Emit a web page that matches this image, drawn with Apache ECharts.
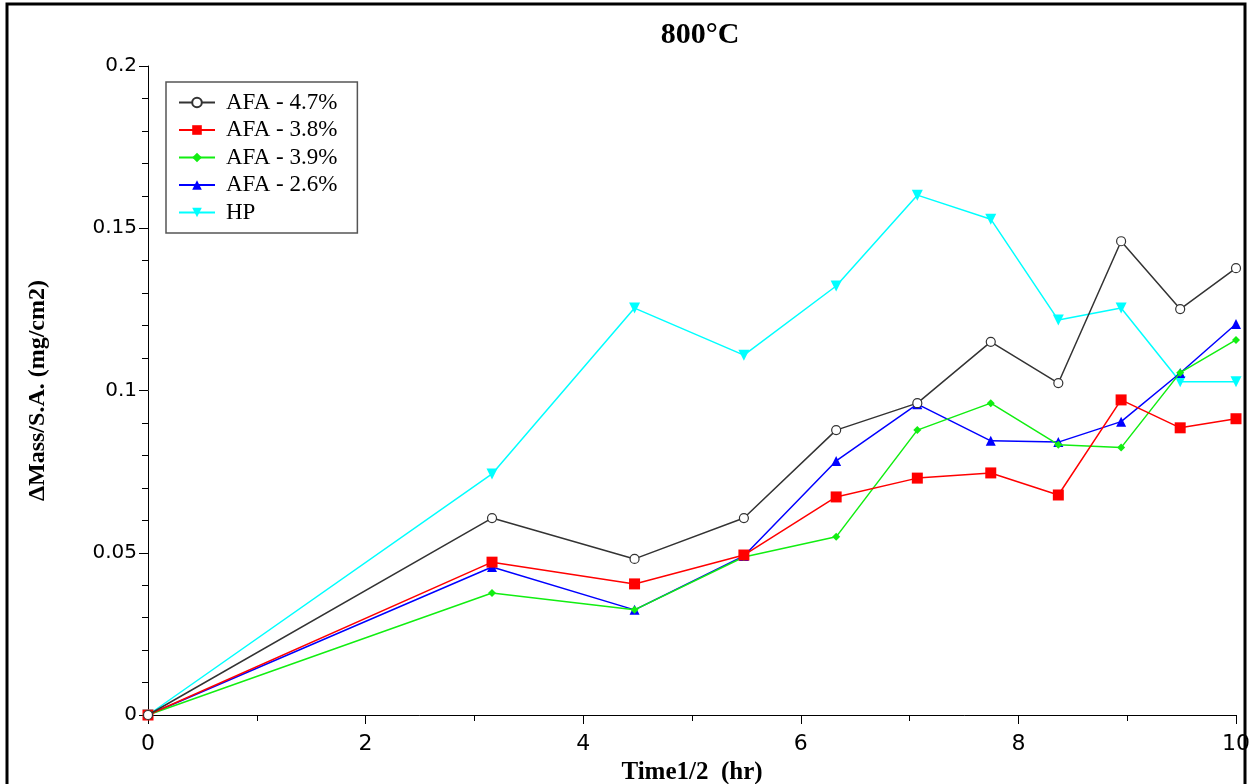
<!DOCTYPE html>
<html>
<head>
<meta charset="utf-8">
<script src="https://cdn.jsdelivr.net/npm/echarts@6/dist/echarts.min.js"></script>
<style>
  html, body { margin: 0; padding: 0; background: #fff; overflow: hidden; }
  #chart { width: 1249px; height: 784px; }
</style>
</head>
<body>
<div id="chart"></div>
<script>
// sqrt(time) in hr^1/2
const xValues = [0, 3.162, 4.472, 5.477, 6.325, 7.071, 7.746, 8.367, 8.944, 9.487, 10];
const seriesNames = ['AFA - 4.7%', 'AFA - 3.8%', 'AFA - 3.9%', 'AFA - 2.6%', 'HP'];
const afa47 = [0, 0.0607, 0.0481, 0.0607, 0.0878, 0.0961, 0.1150, 0.1023, 0.1460, 0.1251, 0.1377];
const afa38 = [0, 0.0471, 0.0404, 0.0493, 0.0672, 0.0730, 0.0746, 0.0678, 0.0971, 0.0885, 0.0913];
const afa39 = [0, 0.0376, 0.0324, 0.0487, 0.0549, 0.0878, 0.0961, 0.0833, 0.0824, 0.1055, 0.1156];
const afa26 = [0, 0.0456, 0.0324, 0.0490, 0.0783, 0.0958, 0.0845, 0.0841, 0.0904, 0.1054, 0.1205];
const hp    = [0, 0.0743, 0.1254, 0.1109, 0.1322, 0.1602, 0.1528, 0.1217, 0.1254, 0.1027, 0.1027];
const yTicks = [0, 0.05, 0.1, 0.15, 0.2];
const xTicks = [0, 2, 4, 6, 8, 10];

const pair = arr => xValues.map((x, i) => [x, arr[i]]);

const styles = [
  { color: '#333333', symbol: 'circle', size: 9, empty: true },
  { color: '#ff0000', symbol: 'rect', size: 11 },
  { color: '#11ee11', symbol: 'diamond', size: 8 },
  { color: '#0000ff', symbol: 'triangle', size: 10 },
  { color: '#00ffff', symbol: 'triangle', size: 11, rotate: 180 }
];
const datasets = [afa47, afa38, afa39, afa26, hp];

const series = datasets.map((d, i) => {
  const s = styles[i];
  return {
    name: seriesNames[i],
    type: 'line',
    data: pair(d),
    symbol: s.symbol,
    symbolSize: s.size,
    symbolRotate: s.rotate || 0,
    showAllSymbol: true,
    lineStyle: { color: s.color, width: 1.5 },
    itemStyle: s.empty
      ? { color: '#ffffff', borderColor: s.color, borderWidth: 1.2 }
      : { color: s.color },
    emphasis: { disabled: true },
    animation: false,
    z: 10 - i
  };
});

const chart = echarts.init(document.getElementById('chart'), null, { renderer: 'canvas' });
chart.setOption({
  backgroundColor: '#ffffff',
  animation: false,
  title: {
    text: '800°C',
    left: 695,
    top: 15,
    textAlign: 'center',
    textStyle: { fontFamily: 'Liberation Serif', fontWeight: 'bold', fontSize: 30, color: '#000' }
  },
  legend: {
    show: true,
    orient: 'vertical',
    left: 166,
    top: 82,
    padding: [9, 20, 9, 12],
    itemWidth: 36,
    itemHeight: 12,
    itemGap: 4.5,
    borderColor: '#555',
    borderWidth: 1.5,
    backgroundColor: '#fff',
    data: seriesNames,
    textStyle: { fontFamily: 'Liberation Serif', fontSize: 23, color: '#000', padding: [0, 0, 0, 6] }
  },
  graphic: [{
    type: 'polyline',
    shape: { points: [[7, 790], [7, 4], [1245, 4], [1245, 790]] },
    style: { stroke: '#000', lineWidth: 3, fill: null },
    silent: true,
    z: 100
  }],
  grid: { left: 148, right: 13, top: 66, bottom: 69, containLabel: false, outerBoundsMode: 'none' },
  xAxis: {
    type: 'value',
    min: 0,
    max: 10,
    interval: 2,
    name: 'Time1/2  (hr)',
    nameLocation: 'middle',
    nameGap: 45,
    nameTextStyle: { fontFamily: 'Liberation Serif', fontWeight: 'bold', fontSize: 25, color: '#000' },
    axisLine: { show: true, onZero: false, lineStyle: { color: '#000', width: 1 } },
    axisTick: { show: true, inside: false, length: 9, lineStyle: { color: '#000' } },
    minorTick: { show: true, splitNumber: 2, length: 6, lineStyle: { color: '#000' } },
    axisLabel: { margin: 18, fontFamily: 'DejaVu Sans', fontSize: 22, color: '#000',
      formatter: v => xTicks.includes(v) ? String(v) : '' },
    splitLine: { show: false }
  },
  yAxis: {
    type: 'value',
    min: 0,
    max: 0.2,
    interval: 0.05,
    name: 'ΔMass/S.A. (mg/cm2)',
    nameLocation: 'middle',
    nameGap: 98,
    nameTextStyle: { fontFamily: 'Liberation Serif', fontWeight: 'bold', fontSize: 24, color: '#000' },
    axisLine: { show: true, onZero: false, lineStyle: { color: '#000', width: 1 } },
    axisTick: { show: true, inside: false, length: 9, lineStyle: { color: '#000' } },
    minorTick: { show: true, splitNumber: 5, length: 6, lineStyle: { color: '#000' } },
    axisLabel: { margin: 11, fontFamily: 'DejaVu Sans', fontSize: 20, color: '#000',
      formatter: v => { const t = yTicks.find(k => Math.abs(k - v) < 1e-9); return t === undefined ? '' : String(t); } },
    splitLine: { show: false }
  },
  series: series
});
</script>
</body>
</html>
